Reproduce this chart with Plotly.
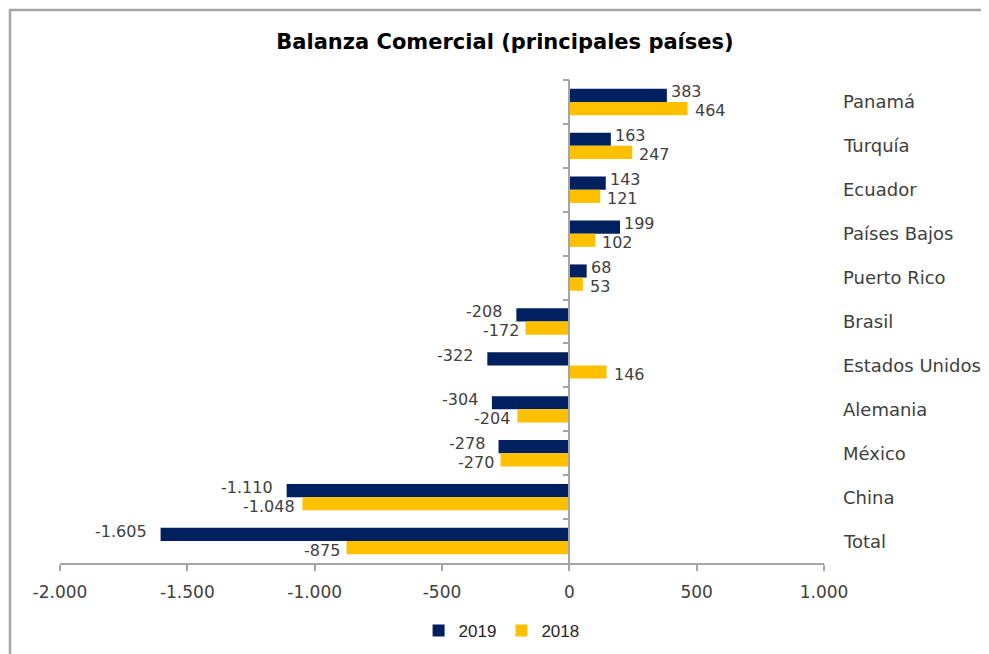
import plotly.graph_objects as go

categories = ["Panamá", "Turquía", "Ecuador", "Países Bajos", "Puerto Rico", "Brasil",
              "Estados Unidos", "Alemania", "México", "China", "Total"]
values_2019 = [383, 163, 143, 199, 68, -208, -322, -304, -278, -1110, -1605]
values_2018 = [464, 247, 121, 102, 53, -172, 146, -204, -270, -1048, -875]
series_names = ["2019", "2018"]
x_tick_vals = [-2000, -1500, -1000, -500, 0, 500, 1000]

NAVY = "#002060"
GOLD = "#FFC000"
GRAY = "#a6a6a6"
TXT = "#404040"
FONT = "DejaVu Sans"

# page body has an 8px margin; figure is taller than the window so the
# legend never pushes the plot margins
W, H = 981, 680
L, R, T, B = 52, 165, 72, 125
PW, PH = W - L - R, H - T - B


def fmt(v):
    s = f"{abs(v):,}".replace(",", ".")
    return ("-" if v < 0 else "") + s


fig = go.Figure()
fig.add_trace(go.Bar(y=categories, x=values_2019, name=series_names[0], orientation="h",
                     marker=dict(color=NAVY, line=dict(width=0))))
fig.add_trace(go.Bar(y=categories, x=values_2018, name=series_names[1], orientation="h",
                     marker=dict(color=GOLD, line=dict(width=0))))

annotations = []
# (values, vertical shift, shift for positive, shift for negative)
for vals, dy, pos_dx, neg_dx in ((values_2019, 10, 2, -12), (values_2018, -9, 5, -5)):
    for c, v in zip(categories, vals):
        annotations.append(dict(
            x=v, y=c, xref="x", yref="y", text=fmt(v), showarrow=False,
            xanchor="left" if v >= 0 else "right", yanchor="middle",
            xshift=pos_dx if v >= 0 else neg_dx, yshift=dy,
            font=dict(family=FONT, size=16, color=TXT)))
for c in categories:
    annotations.append(dict(
        x=1, y=c, xref="paper", yref="y", text=c, showarrow=False,
        xanchor="left", yanchor="middle", xshift=17,
        font=dict(family=FONT, size=18, color=TXT)))

fig.update_layout(
    width=W, height=H,
    margin=dict(l=L, r=R, t=T, b=B),
    paper_bgcolor="white", plot_bgcolor="white",
    barmode="group", bargap=0.4, bargroupgap=0,
    title=dict(text="<b>Balanza Comercial (principales países)</b>",
               x=497 / W, xref="container", xanchor="center",
               y=1 - 34 / H, yref="container", yanchor="middle",
               font=dict(family=FONT, size=21, color="#000000")),
    xaxis=dict(range=[-2000, 1000], tickvals=x_tick_vals,
               ticktext=[fmt(v) for v in x_tick_vals],
               showline=True, linecolor=GRAY, linewidth=1.5,
               ticks="outside", ticklen=6, tickcolor=GRAY, tickwidth=1.5,
               ticklabelstandoff=7,
               showgrid=False, zeroline=False,
               tickfont=dict(family=FONT, size=17, color=TXT)),
    yaxis=dict(type="category", categoryorder="array", categoryarray=categories,
               autorange="reversed", anchor="free", position=2 / 3,
               showline=True, linecolor=GRAY, linewidth=1.5,
               ticks="outside", ticklen=6, tickcolor=GRAY, tickwidth=1.5,
               tickson="boundaries", showticklabels=False, showgrid=False,
               zeroline=False),
    legend=dict(orientation="h", x=0.578, xanchor="center", y=-68 / PH, yanchor="middle",
                font=dict(family="Liberation Sans", size=17, color="#262626"),
                itemwidth=30, traceorder="normal", tracegroupgap=0,
                bgcolor="rgba(0,0,0,0)"),
    annotations=annotations,
    shapes=[dict(type="rect", xref="paper", yref="paper",
                 x0=(2 - L) / PW, x1=1.5, y0=-0.5, y1=(H - B - 2) / PH,
                 line=dict(color=GRAY, width=2.5), layer="below")],
)

fig.write_html("out.html")
